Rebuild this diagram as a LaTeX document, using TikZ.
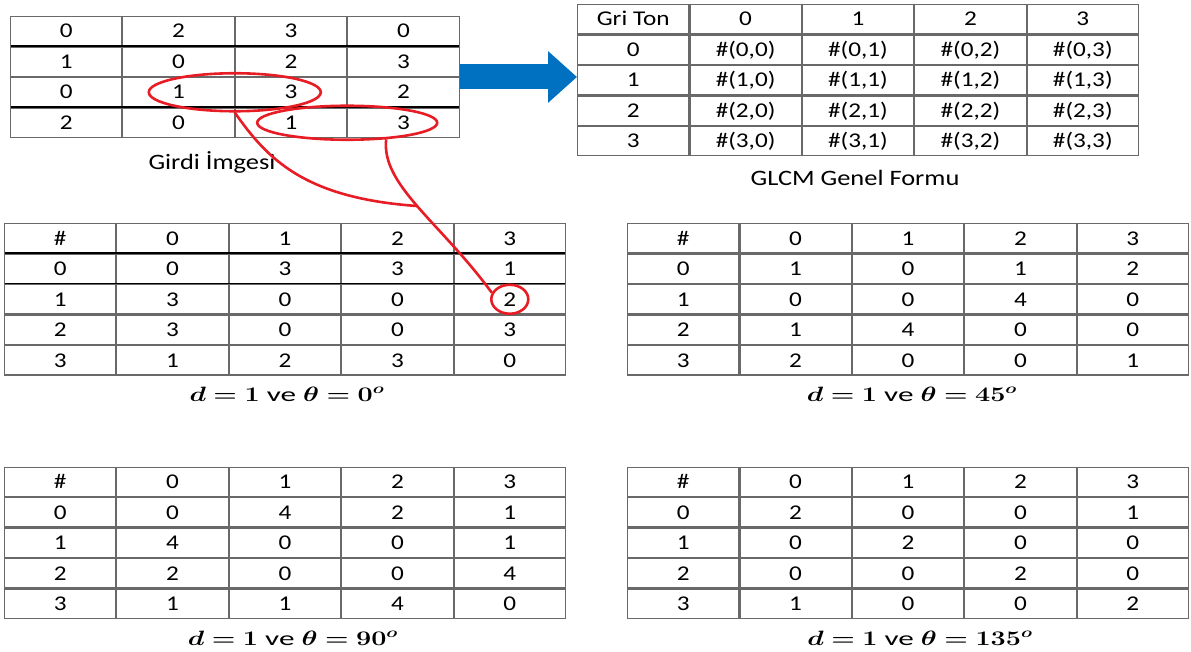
\documentclass[tikz,border=0pt]{standalone}
\usepackage{amsmath,bm}
\usepackage{fontspec}
\setmainfont{Carlito}[FakeStretch=1.2]
\usetikzlibrary{matrix,shapes.geometric,calc,arrows.meta}

\definecolor{gridgray}{RGB}{105,105,105}
\definecolor{markred}{RGB}{232,28,36}
\definecolor{arrowblue}{RGB}{0,112,192}

\tikzset{
  cell/.style={draw=gridgray, line width=1.1pt, minimum width=111.3pt,
    minimum height=29.4pt, inner sep=0pt, outer sep=0pt,
    text height=13.5pt, text depth=0pt, font=\fontsize{21}{25}\selectfont},
  grid4/.style={matrix of nodes, anchor=north west, inner sep=0pt,
    outer sep=0pt, nodes={cell}},
  ring/.style={ellipse, draw=markred, line width=2.6pt, inner sep=0pt},
  wire/.style={markred, line width=2.6pt},
  rule/.style={black, line width=1.5pt},
  captext/.style={font=\fontsize{22}{26}\selectfont},
  mathcap/.style={font=\fontsize{20}{24}\selectfont}
}

\begin{document}
\begin{tikzpicture}[x=1pt,y=-1pt]
    \useasboundingbox (0,0) rectangle (1191,652);

    \matrix[grid4] (img) at (10,16) {
        0 & 2 & 3 & 0 \\
        1 & 0 & 2 & 3 \\
        0 & 1 & 3 & 2 \\
        2 & 0 & 1 & 3 \\
    };
    \draw [rule] (img-1-1.south west) -- (img-1-4.south east);
    \draw [rule] (img-3-1.south west) -- (img-3-4.south east);
    \node [captext] (imgcap) at (212,162) {Girdi İmgesi};

    \matrix[grid4] (glcm) at (577,4) {
        Gri Ton & 0 & 1 & 2 & 3 \\
        0 & \#(0,0) & \#(0,1) & \#(0,2) & \#(0,3) \\
        1 & \#(1,0) & \#(1,1) & \#(1,2) & \#(1,3) \\
        2 & \#(2,0) & \#(2,1) & \#(2,2) & \#(2,3) \\
        3 & \#(3,0) & \#(3,1) & \#(3,2) & \#(3,3) \\
    };
    \node [captext] (glcmcap) at (855,178) {GLCM Genel Formu};

    \draw [arrowblue, line width=25pt, -{Triangle[length=29pt, width=50pt]}]
        (img.east) -- (img.east -| glcm.west);

    \matrix[grid4] (d0) at (4,223) {
        \# & 0 & 1 & 2 & 3 \\
        0 & 0 & 3 & 3 & 1 \\
        1 & 3 & 0 & 0 & 2 \\
        2 & 3 & 0 & 0 & 3 \\
        3 & 1 & 2 & 3 & 0 \\
    };
    \draw [rule] (d0-1-1.south west) -- (d0-1-5.south east);
    \draw [rule] (d0-2-1.south west) -- (d0-2-5.south east);
    \node [mathcap] (cap0) at (287,394)
        {\scalebox{1.3}[1]{$\bm{d=1}$ ve $\bm{\theta=0^{o}}$}};

    \matrix[grid4] (d45) at (627,223) {
        \# & 0 & 1 & 2 & 3 \\
        0 & 1 & 0 & 1 & 2 \\
        1 & 0 & 0 & 4 & 0 \\
        2 & 1 & 4 & 0 & 0 \\
        3 & 2 & 0 & 0 & 1 \\
    };
    \node [mathcap] (cap45) at (912,394)
        {\scalebox{1.3}[1]{$\bm{d=1}$ ve $\bm{\theta=45^{o}}$}};

    \matrix[grid4] (d90) at (4,466.5) {
        \# & 0 & 1 & 2 & 3 \\
        0 & 0 & 4 & 2 & 1 \\
        1 & 4 & 0 & 0 & 1 \\
        2 & 2 & 0 & 0 & 4 \\
        3 & 1 & 1 & 4 & 0 \\
    };
    \node [mathcap] (cap90) at (293,638)
        {\scalebox{1.3}[1]{$\bm{d=1}$ ve $\bm{\theta=90^{o}}$}};

    \matrix[grid4] (d135) at (627,466.5) {
        \# & 0 & 1 & 2 & 3 \\
        0 & 2 & 0 & 0 & 1 \\
        1 & 0 & 2 & 0 & 0 \\
        2 & 0 & 0 & 2 & 0 \\
        3 & 1 & 0 & 0 & 2 \\
    };
    \node [mathcap] (cap135) at (920,638)
        {\scalebox{1.3}[1]{$\bm{d=1}$ ve $\bm{\theta=135^{o}}$}};

    \node [ring, minimum width=172pt, minimum height=38pt] (pair1)
        at ($(img-3-2)!0.5!(img-3-3)$) {};
    \node [ring, minimum width=180pt, minimum height=34pt] (pair2)
        at ($(img-4-3)!0.5!(img-4-4)$) {};
    \node [ring, minimum width=37pt, minimum height=29pt] (hit) at (d0-3-5) {};
    \coordinate (join) at (417,206);

    \draw [wire] (pair1.south) .. controls (268,160) and (305,198) .. (join);
    \draw [wire] (pair2.-23) .. controls (381,185) and (440,222) .. (hit.160);
\end{tikzpicture}
\end{document}
